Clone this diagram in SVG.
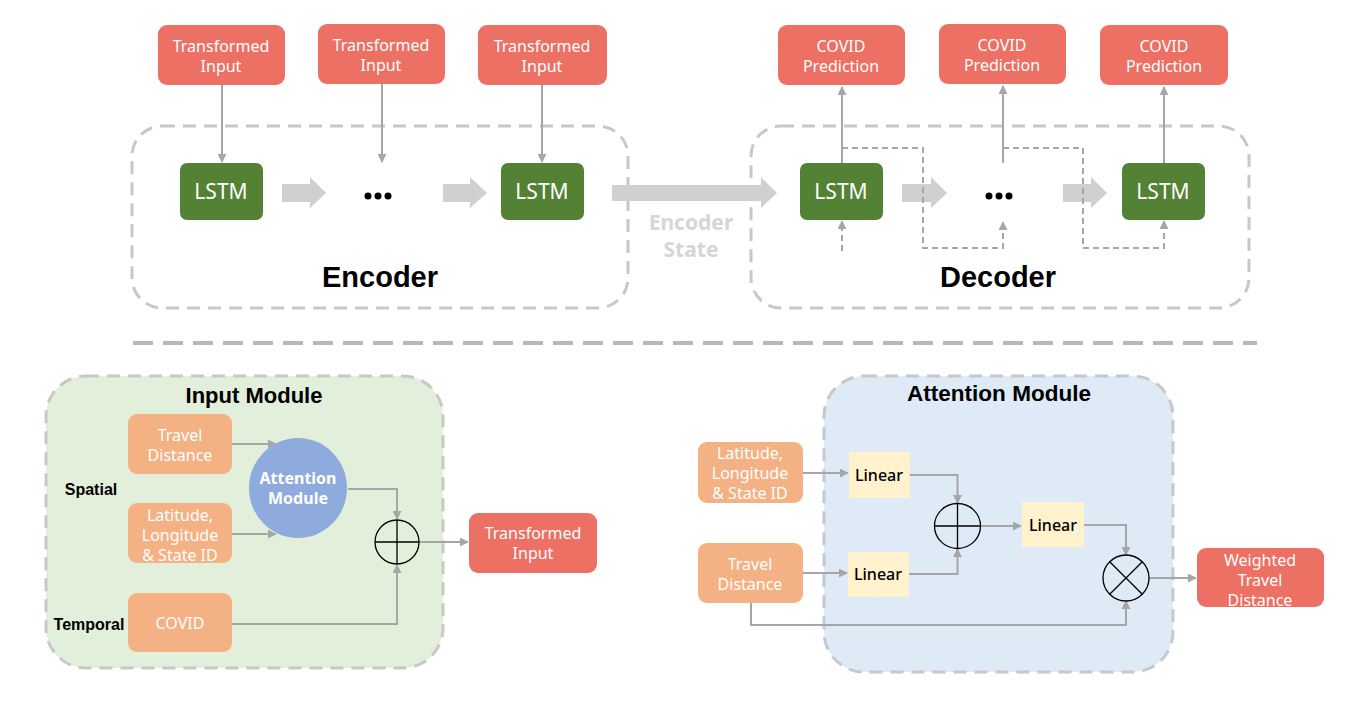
<svg xmlns="http://www.w3.org/2000/svg" width="1355" height="707" viewBox="0 0 1355 707">
<defs>
<style>
.red{fill:#ec7063;}
.org{fill:#f4b183;}
.lstm{fill:#548235;}
.lin{fill:#fff2cc;}
.wt{fill:#fff;font-family:"Noto Sans","Liberation Sans",sans-serif;font-size:16px;text-anchor:middle;}
.lt{fill:#fff;font-family:"Noto Sans","Liberation Sans",sans-serif;font-size:21px;text-anchor:middle;}
.bt{fill:#000;font-family:"Liberation Sans",Arial,sans-serif;font-weight:bold;text-anchor:middle;}
.kt{fill:#000;font-family:"Noto Sans","Liberation Sans",sans-serif;font-size:16px;font-weight:500;text-anchor:middle;}
.dash{fill:none;stroke:#c8c8c8;stroke-width:3;stroke-dasharray:13 8;}
.con{fill:none;stroke:#a6a6a6;stroke-width:2;}
.dcon{fill:none;stroke:#a6a6a6;stroke-width:2;stroke-dasharray:6 4;}
.blk{fill:#d0d0d0;}
.op{fill:none;stroke:#000;stroke-width:1.3;}
</style>
<marker id="ah" viewBox="0 0 10 10" refX="9" refY="5" markerWidth="4.5" markerHeight="4.5" orient="auto">
<path d="M0,0 L10,5 L0,10 z" fill="#a6a6a6"/>
</marker>
</defs>

<!-- containers -->
<g id="encoder">
<rect x="132" y="126" width="496" height="182" rx="30" class="dash"/>
<text x="380" y="287" class="bt" font-size="29">Encoder</text>
</g>
<g id="decoder">
<rect x="751" y="126" width="498" height="182" rx="30" class="dash"/>
<text x="998" y="287" class="bt" font-size="29">Decoder</text>
</g>
<line x1="133" y1="343" x2="1257" y2="343" stroke="#b8b8b8" stroke-width="4" stroke-dasharray="20 10"/>
<g id="input-module">
<rect x="46" y="376" width="397" height="292" rx="40" fill="#e2efda" stroke="#c8c8c8" stroke-width="3" stroke-dasharray="13 8"/>
<text x="254" y="403" class="bt" font-size="22">Input Module</text>
</g>
<g id="attention-module">
<rect x="824" y="376" width="349" height="296" rx="40" fill="#deebf7" stroke="#c8c8c8" stroke-width="3" stroke-dasharray="13 8"/>
<text x="999" y="401" class="bt" font-size="22" textLength="184" lengthAdjust="spacingAndGlyphs">Attention Module</text>
</g>

<!-- connectors -->
<g id="connectors">
<line x1="222" y1="85" x2="222" y2="162" class="con" marker-end="url(#ah)"/>
<line x1="382" y1="84" x2="382" y2="162" class="con" marker-end="url(#ah)"/>
<line x1="542" y1="85" x2="542" y2="162" class="con" marker-end="url(#ah)"/>
<line x1="842" y1="163" x2="842" y2="87" class="con" marker-end="url(#ah)"/>
<line x1="1003" y1="163" x2="1003" y2="86" class="con" marker-end="url(#ah)"/>
<line x1="1164" y1="163" x2="1164" y2="87" class="con" marker-end="url(#ah)"/>
<polygon points="282,184 310,184 310,177 326,193 310,208 310,202 282,202" class="blk"/>
<polygon points="443,184 470,184 470,177 487,193 470,208 470,202 443,202" class="blk"/>
<polygon points="612,185 761,185 761,177 777,193 761,208 761,201 612,201" class="blk"/>
<polygon points="902,184 931,184 931,177 947,193 931,208 931,202 902,202" class="blk"/>
<polygon points="1063,184 1091,184 1091,177 1107,193 1091,208 1091,202 1063,202" class="blk"/>
<polyline points="842,148 923,148 923,248 1003,248 1003,222" class="dcon" marker-end="url(#ah)"/>
<polyline points="1003,148 1083,148 1083,248 1164,248 1164,221" class="dcon" marker-end="url(#ah)"/>
<line x1="842" y1="251" x2="842" y2="221" class="dcon" marker-end="url(#ah)"/>
<!-- input module -->
<line x1="232" y1="444" x2="276" y2="444" class="con" marker-end="url(#ah)"/>
<line x1="232" y1="534" x2="276" y2="534" class="con" marker-end="url(#ah)"/>
<polyline points="348,489 397,489 397,519" class="con" marker-end="url(#ah)"/>
<polyline points="232,624 397,624 397,565" class="con" marker-end="url(#ah)"/>
<line x1="419" y1="542" x2="468" y2="542" class="con" marker-end="url(#ah)"/>
<!-- attention module -->
<line x1="803" y1="473" x2="848" y2="473" class="con" marker-end="url(#ah)"/>
<line x1="803" y1="573" x2="847" y2="573" class="con" marker-end="url(#ah)"/>
<polyline points="910,475 957.5,475 957.5,503" class="con" marker-end="url(#ah)"/>
<polyline points="909,574 957.5,574 957.5,549" class="con" marker-end="url(#ah)"/>
<line x1="980" y1="526" x2="1021" y2="526" class="con" marker-end="url(#ah)"/>
<polyline points="1084,525 1126,525 1126,555" class="con" marker-end="url(#ah)"/>
<line x1="1149" y1="578" x2="1196" y2="578" class="con" marker-end="url(#ah)"/>
<polyline points="751,603 751,625 1126,625 1126,601" class="con" marker-end="url(#ah)"/>
</g>

<text x="691" y="230" fill="#d6d6d6" font-family="'Noto Sans','Liberation Sans',sans-serif" font-size="21" font-weight="bold" text-anchor="middle">Encoder</text>
<text x="691" y="257" fill="#d6d6d6" font-family="'Noto Sans','Liberation Sans',sans-serif" font-size="21" font-weight="bold" text-anchor="middle">State</text>

<!-- encoder nodes -->
<g id="ti1"><rect x="158" y="25" width="127" height="60" rx="9" class="red"/><text x="221" y="52" class="wt">Transformed</text><text x="221" y="72" class="wt">Input</text></g>
<g id="ti2"><rect x="318" y="24" width="127" height="60" rx="9" class="red"/><text x="381" y="51" class="wt">Transformed</text><text x="381" y="71" class="wt">Input</text></g>
<g id="ti3"><rect x="478" y="25" width="129" height="60" rx="9" class="red"/><text x="542" y="52" class="wt">Transformed</text><text x="542" y="72" class="wt">Input</text></g>
<g id="lstm1"><rect x="180" y="163" width="83" height="57" rx="7" class="lstm"/><text x="221" y="199" class="lt">LSTM</text></g>
<g id="dots1"><circle cx="368" cy="196" r="3.5"/><circle cx="378" cy="196" r="3.5"/><circle cx="388" cy="196" r="3.5"/></g>
<g id="lstm2"><rect x="501" y="163" width="83" height="57" rx="7" class="lstm"/><text x="542" y="199" class="lt">LSTM</text></g>

<!-- decoder nodes -->
<g id="cp1"><rect x="778" y="25" width="127" height="60" rx="9" class="red"/><text x="841" y="52" class="wt">COVID</text><text x="841" y="72" class="wt">Prediction</text></g>
<g id="cp2"><rect x="939" y="24" width="127" height="60" rx="9" class="red"/><text x="1002" y="51" class="wt">COVID</text><text x="1002" y="71" class="wt">Prediction</text></g>
<g id="cp3"><rect x="1100" y="25" width="128" height="60" rx="9" class="red"/><text x="1164" y="52" class="wt">COVID</text><text x="1164" y="72" class="wt">Prediction</text></g>
<g id="lstm3"><rect x="800" y="163" width="83" height="57" rx="7" class="lstm"/><text x="841" y="199" class="lt">LSTM</text></g>
<g id="dots2"><circle cx="989" cy="196" r="3.5"/><circle cx="999" cy="196" r="3.5"/><circle cx="1009" cy="196" r="3.5"/></g>
<g id="lstm4"><rect x="1122" y="163" width="83" height="57" rx="7" class="lstm"/><text x="1163" y="199" class="lt">LSTM</text></g>

<!-- input module nodes -->
<text x="91" y="495" class="bt" font-size="16">Spatial</text>
<text x="89" y="630" class="bt" font-size="16">Temporal</text>
<g id="im-travel"><rect x="128" y="414" width="104" height="60" rx="9" class="org"/><text x="180" y="441" class="wt">Travel</text><text x="180" y="461" class="wt">Distance</text></g>
<g id="im-lat"><rect x="128" y="503" width="104" height="60" rx="9" class="org"/><text x="180" y="521" class="wt">Latitude,</text><text x="180" y="541" class="wt">Longitude</text><text x="180" y="561" class="wt">&amp; State ID</text></g>
<g id="im-covid"><rect x="128" y="593" width="104" height="59" rx="9" class="org"/><text x="180" y="629" class="wt">COVID</text></g>
<g id="im-att"><ellipse cx="298" cy="488" rx="49" ry="50" fill="#8faadc"/><text x="298" y="484" class="wt" font-weight="bold">Attention</text><text x="298" y="504" class="wt" font-weight="bold">Module</text></g>
<g id="im-plus"><circle cx="397" cy="542" r="22" class="op" fill="none"/><line x1="375" y1="542" x2="419" y2="542" class="op"/><line x1="397" y1="520" x2="397" y2="564" class="op"/></g>
<g id="im-out"><rect x="469" y="513" width="128" height="60" rx="9" class="red"/><text x="533" y="539" class="wt">Transformed</text><text x="533" y="559" class="wt">Input</text></g>

<!-- attention module nodes -->
<g id="am-lat"><rect x="698" y="442" width="105" height="61" rx="9" class="org"/><text x="750" y="459" class="wt">Latitude,</text><text x="750" y="479" class="wt">Longitude</text><text x="750" y="499" class="wt">&amp; State ID</text></g>
<g id="am-travel"><rect x="698" y="543" width="105" height="60" rx="9" class="org"/><text x="750" y="570" class="wt">Travel</text><text x="750" y="590" class="wt">Distance</text></g>
<g id="lin1"><rect x="849" y="452" width="61" height="46" class="lin"/><text x="879" y="481" class="kt">Linear</text></g>
<g id="lin2"><rect x="848" y="552" width="61" height="45" class="lin"/><text x="878" y="580" class="kt">Linear</text></g>
<g id="lin3"><rect x="1022" y="502" width="62" height="45" class="lin"/><text x="1053" y="531" class="kt">Linear</text></g>
<g id="am-plus"><ellipse cx="957.5" cy="526" rx="23" ry="22.5" class="op"/><line x1="934.5" y1="526" x2="980.5" y2="526" class="op"/><line x1="957.5" y1="503.5" x2="957.5" y2="548.5" class="op"/></g>
<g id="am-times"><circle cx="1126" cy="578" r="23" class="op"/><line x1="1109.7" y1="561.7" x2="1142.3" y2="594.3" class="op"/><line x1="1142.3" y1="561.7" x2="1109.7" y2="594.3" class="op"/></g>
<g id="am-out"><rect x="1197" y="548" width="127" height="59" rx="9" class="red"/><text x="1260" y="566" class="wt">Weighted</text><text x="1260" y="586" class="wt">Travel</text><text x="1260" y="606" class="wt">Distance</text></g>
</svg>
